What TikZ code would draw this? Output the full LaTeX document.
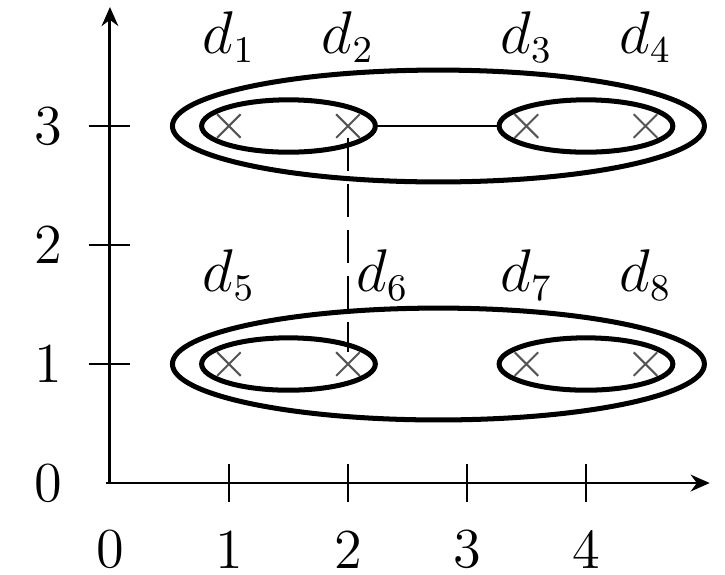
\documentclass[tikz,border=0pt]{standalone}
\usepackage{tikz}
\usetikzlibrary{shapes.geometric, shapes.misc, arrows.meta}
\definecolor{mygray}{HTML}{555555}
\tikzset{
	axisline/.style={
			line width=0.7pt,
			-{Stealth[length=1.6mm, width=1.4mm]}
		},
	tickline/.style={
			line width=0.7pt
		},
	pointnode/.style={
			cross out,
			draw=mygray,
			line width=0.5pt,
			minimum size=1.8mm,
			inner sep=0pt
		},
	clusternode/.style={
			ellipse,
			draw=black,
			line width=1.2pt,
			inner sep=0pt,
			minimum width=14.6mm,
			minimum height=4.4mm
		},
	groupnode/.style={
			clusternode,
			minimum width=44.7mm,
			minimum height=9.4mm
		},
	labelnode/.style={
			anchor=base,
			inner sep=0pt,
			font=\fontsize{13.5}{16}\selectfont
		},
	ticklabel/.style={
			inner sep=0pt,
			font=\fontsize{13.5}{16}\selectfont
		}
}

\begin{document}
\begin{tikzpicture}
    \useasboundingbox (-0.924,-0.765) rectangle (5.168,4.059);
    \coordinate (o) at (0,0);
    \coordinate (xl) at (-0.03,0);
    \coordinate (xr) at (5.04,0);
    \coordinate (yt) at (0,4.0);

    \draw[axisline] (xl) -- (xr);
    \draw[axisline] (o) -- (yt);

    \foreach \i in {1,...,4} {
        \draw[tickline] (\i,-0.16) -- (\i,0.16);
        \node[ticklabel] (x\i) at (\i,-0.56) {\i};
    }
    \foreach \j in {1,2,3} {
        \draw[tickline] (-0.18,\j) -- (0.17,\j);
        \node[ticklabel] (y\j) at (-0.52,\j) {\j};
    }
    \node[ticklabel] (x0) at (0,-0.56) {0};
    \node[ticklabel] (y0) at (-0.52,0) {0};

    \node[pointnode] (p1) at (1,3) {};
    \node[pointnode] (p2) at (2,3) {};
    \node[pointnode] (p3) at (3.5,3) {};
    \node[pointnode] (p4) at (4.5,3) {};
    \node[pointnode] (p5) at (1,1) {};
    \node[pointnode] (p6) at (2,1) {};
    \node[pointnode] (p7) at (3.5,1) {};
    \node[pointnode] (p8) at (4.5,1) {};

    \node[clusternode] (c12) at (1.5,3) {};
    \node[clusternode] (c34) at (4,3) {};
    \node[groupnode] (c1234) at (2.76,3) {};
    \node[clusternode] (c56) at (1.5,1) {};
    \node[clusternode] (c78) at (4,1) {};
    \node[groupnode] (c5678) at (2.76,1) {};

    \node[labelnode] (l1) at (1,3.61) {$d_1$};
    \node[labelnode] (l2) at (2,3.61) {$d_2$};
    \node[labelnode] (l3) at (3.5,3.61) {$d_3$};
    \node[labelnode] (l4) at (4.5,3.61) {$d_4$};
    \node[labelnode] (l5) at (1,1.61) {$d_5$};
    \node[labelnode] (l6) at (2.29,1.61) {$d_6$};
    \node[labelnode] (l7) at (3.5,1.61) {$d_7$};
    \node[labelnode] (l8) at (4.5,1.61) {$d_8$};

    \draw[line width=0.6pt] (c12.east) -- (c34.west);
    \draw[line width=0.5pt, dash pattern=on 8pt off 3pt] (p2) -- (p6);
\end{tikzpicture}
\end{document}
